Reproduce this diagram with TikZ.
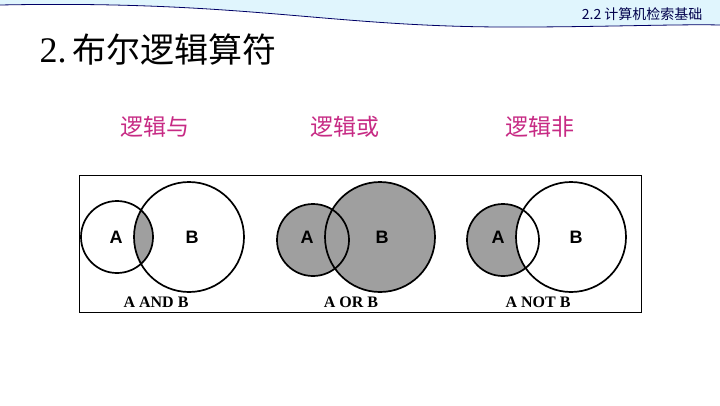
\documentclass[tikz,border=0pt]{standalone}
\usepackage{fontspec}
\setmainfont{Liberation Serif}
\setsansfont{Liberation Sans}
\newfontfamily\cjk{Noto Sans CJK SC}
\begin{document}
\begin{tikzpicture}[x=1pt,y=-1pt,
  circ/.style={draw=black,line width=1.7pt},
  sh/.style={fill=gray!75},
  lett/.style={font=\sffamily\bfseries\fontsize{18}{18}\selectfont},
  captxt/.style={font=\bfseries\fontsize{16}{16}\selectfont},
  ttl/.style={text=magenta!80!black,font=\cjk\fontsize{23}{23}\selectfont}]
\useasboundingbox (0,0) rectangle (720,405);
\fill[white] (0,0) rectangle (720,405);
\fill[cyan!12] (0,0) -- (0,5) .. controls (250,0) and (330,28) .. (520,27) .. controls (600,27) and (680,24) .. (720,25) -- (720,0) -- cycle;
\draw[blue!40!black,line width=0.8pt] (0,5) .. controls (250,0) and (330,28) .. (520,27) .. controls (600,27) and (680,24) .. (720,25);
\node[anchor=east,font=\cjk\fontsize{14}{14}\selectfont,text=blue!30!black] (hdr) at (706,14) {2.2 计算机检索基础};
\node[anchor=west,font=\fontsize{36}{36}\selectfont] (title) at (36,50) {2.\,{\cjk\fontsize{34}{34}\selectfont 布尔逻辑算符}};
\node[ttl] (t1) at (155,127) {逻辑与};
\node[ttl] (t2) at (345,127) {逻辑或};
\node[ttl] (t3) at (540,127) {逻辑非};
\draw[line width=0.8pt] (79,175) rectangle (641,312);
% AND
\begin{scope}\clip (117,237) circle (36);\fill[sh] (189,237) circle (55);\end{scope}
\draw[circ] (117,237) circle (36);
\draw[circ] (189,237) circle (55);
% OR
\fill[sh] (313,240) circle (36);
\fill[sh] (380,237) circle (55);
\draw[circ] (313,240) circle (36);
\draw[circ] (380,237) circle (55);
% NOT
\fill[sh] (503,240) circle (36);
\fill[white] (571,237) circle (55);
\draw[circ] (503,240) circle (36);
\draw[circ] (571,237) circle (55);
\node[lett] (a1) at (116,237) {A};
\node[lett] (b1) at (192,237) {B};
\node[lett] (a2) at (307,237) {A};
\node[lett] (b2) at (382,237) {B};
\node[lett] (a3) at (498,237) {A};
\node[lett] (b3) at (576,237) {B};
\node[captxt] (c1) at (156,302) {A AND B};
\node[captxt] (c2) at (351,302) {A OR B};
\node[captxt] (c3) at (538,302) {A NOT B};
\end{tikzpicture}
\end{document}
